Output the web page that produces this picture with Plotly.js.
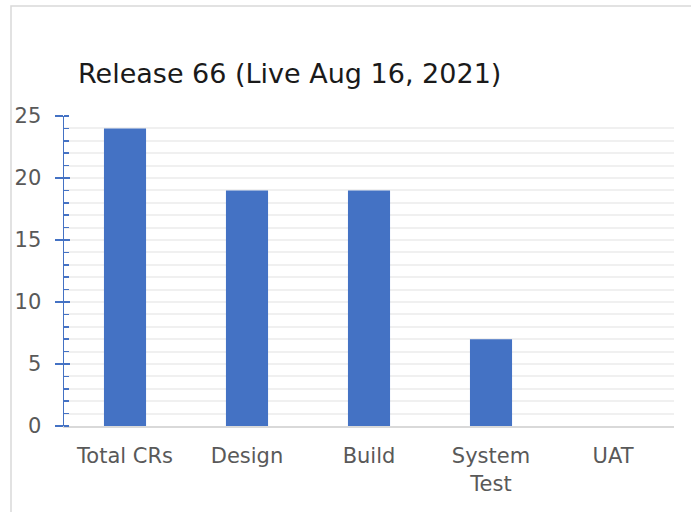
<!DOCTYPE html>
<html><head><meta charset="utf-8">
<script src="https://cdn.plot.ly/plotly-3.0.1.min.js"></script>
<style>html,body{margin:0;padding:0;background:#fff;}#chart{width:691px;height:512px;}</style>
</head><body><div id="chart"></div>
<script>
const categories = ['Total CRs', 'Design', 'Build', 'System<br>Test', 'UAT'];
const values = [24, 19, 19, 7, 0];
const titleText = 'Release 66 (Live Aug 16, 2021)';
const yTickVals = [0, 5, 10, 15, 20, 25];

const FONT = 'DejaVu Sans, sans-serif';
const BLUE = '#4472C4';

const traces = [
  {type: 'bar', x: categories, y: values, marker: {color: BLUE, line: {width: 0}}, hoverinfo: 'none'},
  {type: 'scatter', x: categories, y: values, yaxis: 'y2', mode: 'none', hoverinfo: 'none', showlegend: false}
];

const layout = {
  width: 691, height: 512,
  margin: {l: 64, r: 17, t: 116, b: 86},
  paper_bgcolor: '#fff', plot_bgcolor: '#fff',
  showlegend: false,
  bargap: 0.655,
  font: {family: FONT, color: '#595959'},
  title: {text: titleText, font: {family: FONT, size: 27, color: '#1a1a1a'},
          xref: 'container', x: 78/691, xanchor: 'left',
          yref: 'container', y: 1 - 74/512, yanchor: 'middle'},
  xaxis: {type: 'category', showline: true, linecolor: '#d9d9d9', linewidth: 2,
          showgrid: false, ticks: '', tickfont: {size: 21, color: '#595959', family: FONT},
          ticklabelstandoff: 10, fixedrange: true},
  yaxis: {range: [0, 25], tickvals: yTickVals, showline: true, linecolor: BLUE, linewidth: 1.5,
          showgrid: false, zeroline: false, ticks: 'outside', ticklen: 8, tickwidth: 1.5, tickcolor: BLUE,
          tickfont: {size: 21, color: '#595959', family: FONT}, ticklabelstandoff: 9,
          minor: {dtick: 1, ticks: 'inside', ticklen: 5, tickwidth: 1.5, tickcolor: BLUE,
                  showgrid: true, gridcolor: '#f0f0f0', gridwidth: 2},
          fixedrange: true},
  yaxis2: {range: [0, 25], overlaying: 'y', side: 'left', tickvals: yTickVals, showticklabels: false,
           ticks: 'inside', ticklen: 6, tickwidth: 1.5, tickcolor: BLUE, showline: false,
           showgrid: false, zeroline: false, fixedrange: true},
  shapes: [{type: 'rect', xref: 'paper', yref: 'paper',
            x0: -53/610, x1: 1.2, y0: -0.5, y1: 1 + 110/310,
            line: {color: '#d9d9d9', width: 1.5}, fillcolor: 'rgba(0,0,0,0)', layer: 'below'}]
};

Plotly.newPlot('chart', traces, layout, {staticPlot: true, displayModeBar: false});
</script></body></html>
